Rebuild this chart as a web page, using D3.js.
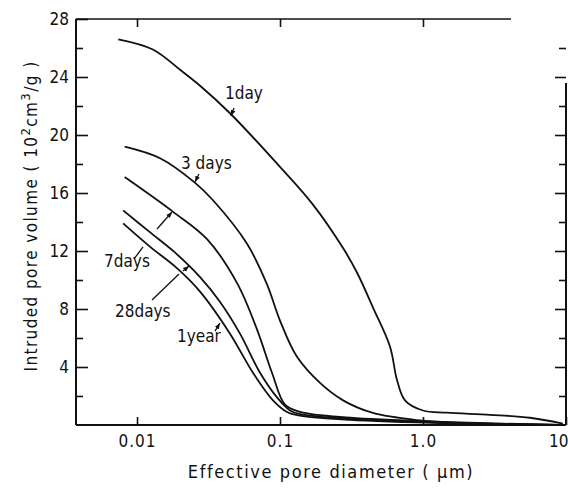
<!DOCTYPE html>
<html>
<head>
<meta charset="utf-8">
<script src="https://cdn.jsdelivr.net/npm/d3@7"></script>
<style>
body { margin: 0; background: #fff; }
svg text { font-family: "DejaVu Sans Condensed", "DejaVu Sans", sans-serif; font-stretch: condensed; fill: #111; }
</style>
</head>
<body>
<svg id="chart" width="568" height="488"></svg>
<script>
// values (diameter in um, volume in 10^-2 cm3/g)
var day1Diam = [0.0074, 0.0129, 0.0200, 0.0276, 0.0447, 0.100, 0.170, 0.276, 0.346, 0.447, 0.588, 0.658, 0.748, 1.0, 1.47, 2.94, 5.6, 9.5];
var day1Vol  = [26.6, 25.9, 24.5, 23.4, 21.5, 17.8, 15.2, 12.2, 10.5, 8.1, 5.4, 3.1, 1.7, 1.0, 0.85, 0.7, 0.5, 0.1];

var day3Diam = [0.0082, 0.0145, 0.0255, 0.0340, 0.0588, 0.0811, 0.100, 0.1315, 0.1905, 0.276, 0.447, 0.908, 1.90, 8.65];
var day3Vol  = [19.2, 18.4, 16.7, 15.5, 12.5, 9.7, 7.2, 4.7, 2.9, 1.7, 0.83, 0.34, 0.14, 0.0];

var day7Diam = [0.0082, 0.0179, 0.0310, 0.0500, 0.0690, 0.0879, 0.1084, 0.138, 0.309, 1.55, 9.0];
var day7Vol  = [17.1, 14.7, 12.8, 9.8, 6.6, 3.6, 1.4, 0.9, 0.5, 0.2, 0.0];

var day28Diam = [0.0080, 0.0123, 0.0184, 0.0276, 0.0380, 0.0525, 0.0725, 0.0953, 0.1175, 0.138, 0.309, 1.55, 9.0];
var day28Vol  = [14.8, 13.3, 11.9, 10.2, 8.5, 6.3, 3.6, 1.9, 1.0, 0.75, 0.42, 0.15, 0.0];

var year1Diam = [0.0080, 0.0123, 0.0191, 0.0276, 0.0447, 0.0647, 0.0893, 0.112, 0.138, 0.309, 1.55, 9.0];
var year1Vol  = [13.9, 12.3, 10.8, 9.2, 6.3, 3.6, 1.7, 0.9, 0.65, 0.36, 0.12, 0.0];

var xTicks = [0.01, 0.1, 1, 10];
var xTickLabels = ["0.01", "0.1", "1.0", "10"];
var yMajor = [4, 8, 12, 16, 20, 24, 28];
var yMinor = [2, 6, 10, 14, 18, 22, 26];

var noteText = ["1day", "3 days", "7days", "28days", "1year"];

var svg = d3.select("#chart");
var x = d3.scaleLog().domain([0.003744, 10]).range([76, 566]);
var y = d3.scaleLinear().domain([0, 28]).range([425, 19]);

var defs = svg.append("defs");
defs.append("marker")
   .attr("id", "ah").attr("viewBox", "0 0 10 10")
   .attr("refX", 10).attr("refY", 5)
   .attr("markerWidth", 6).attr("markerHeight", 6)
   .attr("markerUnits", "userSpaceOnUse").attr("orient", "auto")
   .append("path").attr("d", "M0,1 L10,5 L0,9 Z").attr("fill", "#111");

// ticks
function tickAxis(axis, tr, size) {
   var g = svg.append("g").attr("transform", tr).call(axis.tickSize(size));
   g.select(".domain").remove();
   g.selectAll("line").attr("stroke", "#111").attr("stroke-width", 1.6);
   return g;
}
var gy = tickAxis(d3.axisLeft(y).tickValues(yMajor).tickPadding(7), "translate(76,0)", -12);
gy.selectAll("text").attr("font-size", 17);
tickAxis(d3.axisLeft(y).tickValues(yMinor).tickFormat(""), "translate(76,0)", -7);
tickAxis(d3.axisRight(y).tickValues(yMajor.filter(function(v){ return v < 28; })).tickFormat(""), "translate(566,0)", -11);
tickAxis(d3.axisRight(y).tickValues(yMinor).tickFormat(""), "translate(566,0)", -7);

var gx = tickAxis(d3.axisBottom(x).tickValues(xTicks).tickFormat(function(d, i){ return xTickLabels[i]; }).tickPadding(10), "translate(0,425)", -8);
gx.selectAll("text").attr("font-size", 17).attr("letter-spacing", 1);
// last label sits against the right edge
gx.selectAll("text").filter(function(d){ return d === 10; }).attr("text-anchor", "end").attr("dx", 2).attr("letter-spacing", 0);
tickAxis(d3.axisTop(x).tickValues(xTicks.slice(0, 3)).tickFormat(""), "translate(0,19)", -8);

// frame (top and upper right edge are missing in the scan)
var frame = svg.append("g").attr("stroke", "#111").attr("stroke-width", 2).attr("fill", "none");
frame.append("line").attr("x1", 76).attr("x2", 76).attr("y1", y(28)).attr("y2", y(0));
frame.append("line").attr("x1", 76).attr("x2", 566).attr("y1", y(0)).attr("y2", y(0));
frame.append("line").attr("x1", 76).attr("x2", 511).attr("y1", y(28)).attr("y2", y(28)).attr("stroke-width", 1.6);
frame.append("line").attr("x1", 566).attr("x2", 566).attr("y1", 83).attr("y2", y(0));

// curves
var series = [
   [day1Diam, day1Vol], [day3Diam, day3Vol], [day7Diam, day7Vol],
   [day28Diam, day28Vol], [year1Diam, year1Vol]
];
var line = d3.line()
   .x(function(d){ return x(d[0]); })
   .y(function(d){ return y(d[1]); })
   .curve(d3.curveCatmullRom.alpha(0.5));
svg.append("g").selectAll("path").data(series).enter().append("path")
   .attr("d", function(s){ return line(d3.zip(s[0], s[1])); })
   .attr("fill", "none").attr("stroke", "#111").attr("stroke-width", 1.8);

// labels and leader lines
var labelAt = [[0.0412, 22.48], [0.0203, 17.66], [0.00588, 10.9], [0.00702, 7.45], [0.01905, 5.72]];
var leaders = [
   [[0.0477, 21.86], [0.0454, 21.31], true],
   [[0.0271, 17.31], [0.02545, 16.76], true],
   [[0.00953, 11.45], [0.01102, 12.28], false],
   [[0.0138, 13.52], [0.01757, 14.69], true],
   [[0.01273, 8.62], [0.01967, 10.41], false],
   [[0.02097, 10.62], [0.02311, 10.97], true],
   [[0.0351, 6.48], [0.0380, 7.03], true]
];
svg.append("g").selectAll("text").data(noteText).enter().append("text")
   .attr("x", function(d, i){ return x(labelAt[i][0]); })
   .attr("y", function(d, i){ return y(labelAt[i][1]); })
   .attr("font-size", 17)
   .text(function(d){ return d; });
svg.append("g").selectAll("line").data(leaders).enter().append("line")
   .attr("x1", function(d){ return x(d[0][0]); }).attr("y1", function(d){ return y(d[0][1]); })
   .attr("x2", function(d){ return x(d[1][0]); }).attr("y2", function(d){ return y(d[1][1]); })
   .attr("stroke", "#111").attr("stroke-width", 1.3)
   .attr("marker-end", function(d){ return d[2] ? "url(#ah)" : null; });

// axis titles
svg.append("text")
   .attr("x", 331).attr("y", 478)
   .attr("text-anchor", "middle").attr("font-size", 18).attr("letter-spacing", 1.6)
   .text("Effective pore diameter ( \u03bcm)");

var yt = svg.append("text")
   .attr("transform", "translate(37,216) rotate(-90)")
   .attr("text-anchor", "middle").attr("font-size", 17).attr("letter-spacing", 1.4);
yt.append("tspan").text("Intruded pore volume ( 10");
yt.append("tspan").attr("dy", -7).attr("font-size", 13).text("2");
yt.append("tspan").attr("dy", 7).text("cm");
yt.append("tspan").attr("dy", -7).attr("font-size", 13).text("3");
yt.append("tspan").attr("dy", 7).text("/g )");
</script>
</body>
</html>
